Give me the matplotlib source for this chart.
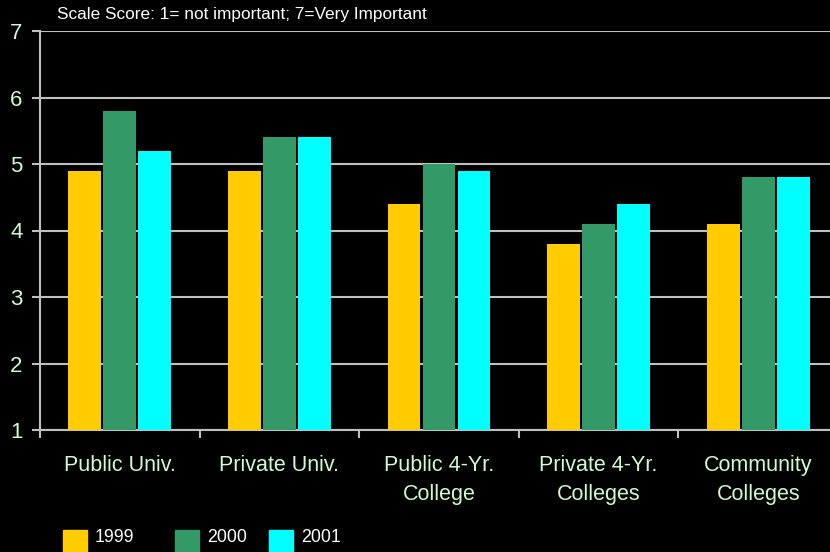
import matplotlib
matplotlib.use("Agg")
import matplotlib.pyplot as plt
import numpy as np

plt.rcParams['font.family'] = ['Liberation Sans', 'DejaVu Sans']

categories = ["Public Univ.", "Private Univ.", "Public 4-Yr.\nCollege",
              "Private 4-Yr.\nColleges", "Community\nColleges"]
years = ["1999", "2000", "2001"]
v1999 = [4.9, 4.9, 4.4, 3.8, 4.1]
v2000 = [5.8, 5.4, 5.0, 4.1, 4.8]
v2001 = [5.2, 5.4, 4.9, 4.4, 4.8]
series = [v1999, v2000, v2001]
colors = ["#FFCC00", "#339966", "#00FFFF"]

label_col = "#CCFFCC"
line_col = "#C0C0C0"

fig = plt.figure(figsize=(8.3, 5.52), dpi=100, facecolor="black")
ax = fig.add_axes([40/830, 122/552, 798/830, 399/552], facecolor="black")

x = np.arange(len(categories)) + 0.5
offsets = [-0.219, 0.0, 0.219]
for vals, off, c in zip(series, offsets, colors):
    ax.bar(x + off, np.array(vals) - 1, bottom=1, width=0.205, color=c, zorder=3)

ax.set_xlim(0, len(categories))
ax.set_ylim(1, 7)
ax.set_yticks(range(1, 8))
ax.yaxis.grid(True, color=line_col, linewidth=1.5, zorder=0)
ax.set_axisbelow(True)

ax.set_xticks(range(len(categories) + 1))
ax.set_xticklabels([])
ax.set_xticks(x, minor=True)
ax.set_xticklabels(categories, minor=True, color=label_col, fontsize=15.5, linespacing=1.5)
ax.tick_params(axis='x', which='minor', length=0, pad=18)
ax.tick_params(axis='x', which='major', length=6, width=1.5, color=line_col)
ax.tick_params(axis='y', length=6, width=1.5, color=line_col, labelcolor=label_col,
               labelsize=16, pad=6.5)

for s in ['top', 'right']:
    ax.spines[s].set_visible(False)
for s in ['left', 'bottom']:
    ax.spines[s].set_color(line_col)
    ax.spines[s].set_linewidth(1.5)

fig.text(57/830, 1 - 15/552, "Scale Score: 1= not important; 7=Very Important",
         color="white", fontsize=12.4, va='center', ha='left')

# legend drawn by hand along the bottom
leg_x = [63, 175, 269]
for lx, yr, c in zip(leg_x, years, colors):
    fig.patches.append(plt.Rectangle((lx/830, 0), 24/830, 22/552, color=c,
                                     transform=fig.transFigure, figure=fig))
    fig.text((lx + 32)/830, 1 - 537/552, yr, color="white", fontsize=12.8,
             va='center', ha='left')

fig.savefig("out.png", dpi=100, facecolor="black")
